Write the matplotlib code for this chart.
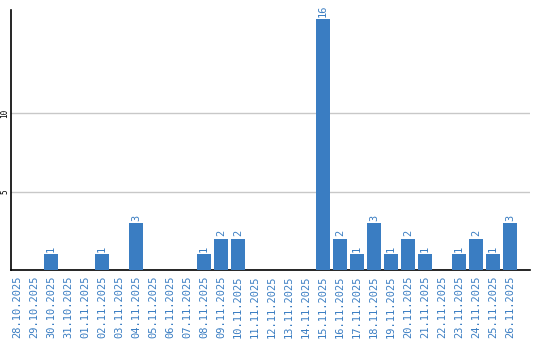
import matplotlib
matplotlib.use("Agg")
import matplotlib.pyplot as plt

dates = ["28.10.2025", "29.10.2025", "30.10.2025", "31.10.2025", "01.11.2025",
         "02.11.2025", "03.11.2025", "04.11.2025", "05.11.2025", "06.11.2025",
         "07.11.2025", "08.11.2025", "09.11.2025", "10.11.2025", "11.11.2025",
         "12.11.2025", "13.11.2025", "14.11.2025", "15.11.2025", "16.11.2025",
         "17.11.2025", "18.11.2025", "19.11.2025", "20.11.2025", "21.11.2025",
         "22.11.2025", "23.11.2025", "24.11.2025", "25.11.2025", "26.11.2025"]
counts = [0, 0, 1, 0, 0, 1, 0, 3, 0, 0, 0, 1, 2, 2, 0,
          0, 0, 0, 16, 2, 1, 3, 1, 2, 1, 0, 1, 2, 1, 3]
yticks = [5, 10]

blue = "#3a7dc2"

fig = plt.figure(figsize=(5.4, 3.4), dpi=100)
ax = fig.add_axes([11 / 540, 1 - 270 / 340, 519 / 540, 260 / 340])

x = list(range(len(dates)))
ax.bar(x, counts, width=0.82, color=blue, zorder=3)
for xi, v in zip(x, counts):
    if v > 0:
        ax.text(xi, v + 0.15, str(v), rotation=90, ha="center", va="bottom",
                color=blue, fontsize=7.5, family="DejaVu Sans Mono")

ax.set_xlim(-0.35, 30.18)
ax.set_ylim(0, 16.6)
ax.set_yticks(yticks)
ax.set_yticklabels([str(t) for t in yticks], rotation=90, va="center",
                   fontsize=5.5, family="DejaVu Sans Mono")
ax.yaxis.grid(True, color="#c8c8c8", linewidth=1, zorder=0)
ax.tick_params(axis="y", length=0, pad=1)
ax.set_xticks(x)
ax.set_xticklabels(dates, rotation=90, color=blue, fontsize=7.5,
                   family="DejaVu Sans Mono")
ax.tick_params(axis="x", length=0, pad=4)

for side in ["top", "right"]:
    ax.spines[side].set_visible(False)
ax.spines["left"].set_color("black")
ax.spines["bottom"].set_color("black")
ax.spines["left"].set_linewidth(1.2)
ax.spines["bottom"].set_linewidth(1.2)

fig.savefig("out.png", dpi=100)
